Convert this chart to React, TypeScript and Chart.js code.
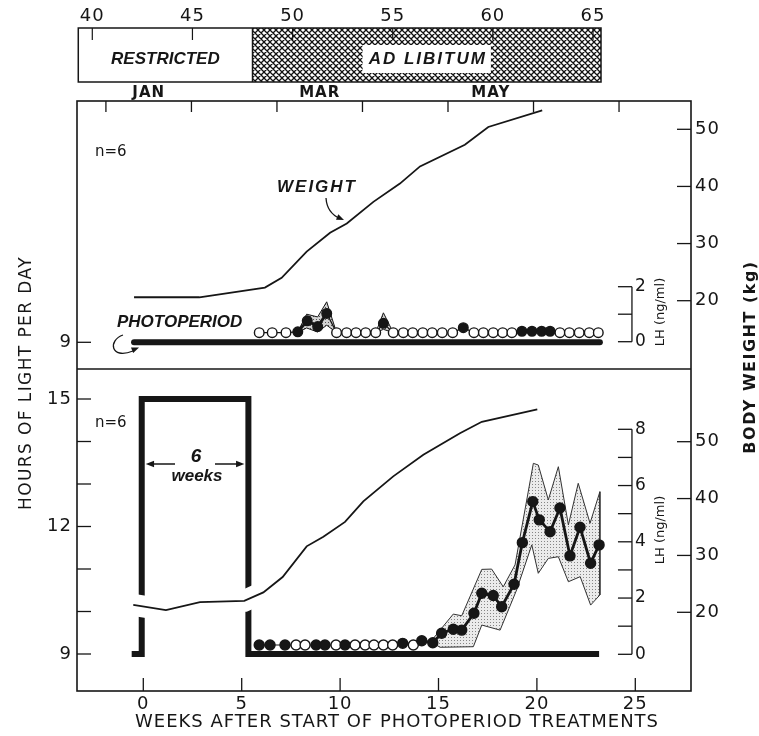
import React, { useEffect, useRef } from 'react';
import { Chart, registerables } from 'chart.js';

Chart.register(...registerables);

// ================= DATA =================
// Weeks after start of photoperiod treatment (bottom axis)
const weekTicks = [0, 5, 10, 15, 20, 25];
const weekTickLabels = ['0', '5', '10', '15', '20', '25'];
// Calendar weeks (top bar)
const calendarWeeks = [40, 45, 50, 55, 60, 65];
const monthEdges = [40.68, 44.95, 49.22, 53.49, 57.76, 62.03, 66.3];
const monthNames = ['JAN', '', 'MAR', '', 'MAY', ''];
const dietLabels = ['RESTRICTED', 'AD LIBITUM'];
const dietStart = [39.3, 48.0];
const dietEnd = [48.0, 65.4];

const hourTicksTop = [9];
const hourTicksBottom = [9, 10, 11, 12, 13, 14, 15];
const hourLabels = [9, 12, 15];
const weightTicks = [20, 30, 40, 50];
const lhTicksTop = [0, 1, 2];
const lhLabelsTop = [0, 2];
const lhTicksBottom = [0, 1, 2, 3, 4, 5, 6, 7, 8];
const lhLabelsBottom = [0, 2, 4, 6, 8];

// Photoperiod (hours of light per day)
const photoTopWeeks = [-0.47, 23.2];
const photoTopHours = [9, 9];
const photoBottomWeeks = [-0.59, -0.08, -0.08, 5.34, 5.34, 23.16];
const photoBottomHours = [9, 9, 15, 15, 9, 9];

// Body weight (kg)
const weightTopWeeks = [-0.47, 2.85, 6.18, 7.03, 8.3, 9.49, 10.34, 11.69, 13.04, 14.06, 16.34, 17.53, 20.27];
const weightTopKg = [20.6, 20.6, 22.3, 24.0, 28.6, 31.9, 33.5, 37.3, 40.5, 43.5, 47.3, 50.4, 53.3];
const weightBottomWeeks = [-0.51, 1.15, 2.88, 5.13, 6.1, 7.08, 8.3, 9.15, 10.25, 11.18, 12.7, 14.23, 16.09, 17.2, 20.02];
const weightBottomKg = [21.3, 20.4, 21.8, 22.0, 23.5, 26.2, 31.6, 33.3, 35.9, 39.5, 43.9, 47.7, 51.5, 53.5, 55.7];

// LH (ng/ml), top panel (constant short days)
const lhTopWeeks = [5.89, 6.55, 7.25, 7.85, 8.33, 8.86, 9.32, 9.82, 10.33, 10.81, 11.3, 11.81, 12.2, 12.7, 13.21, 13.69, 14.2, 14.68, 15.19, 15.72, 16.26, 16.8, 17.28, 17.78, 18.26, 18.73, 19.24, 19.75, 20.24, 20.67, 21.17, 21.65, 22.15, 22.66, 23.12];
const lhTopValues = [0.33, 0.33, 0.33, 0.36, 0.76, 0.55, 1.03, 0.33, 0.33, 0.33, 0.33, 0.33, 0.67, 0.33, 0.33, 0.33, 0.33, 0.33, 0.33, 0.33, 0.51, 0.33, 0.33, 0.33, 0.33, 0.33, 0.38, 0.38, 0.38, 0.38, 0.33, 0.33, 0.33, 0.33, 0.33];
const lhTopDetect = [0, 0, 0, 1, 1, 1, 1, 0, 0, 0, 0, 0, 1, 0, 0, 0, 0, 0, 0, 0, 1, 0, 0, 0, 0, 0, 1, 1, 1, 1, 0, 0, 0, 0, 0];
const topBand1Weeks = [7.85, 8.3, 8.86, 9.32, 9.82];
const topBand1Upper = [0.36, 1.0, 0.9, 1.45, 0.33];
const topBand1Lower = [0.33, 0.5, 0.35, 0.6, 0.33];
const topBand2Weeks = [11.81, 12.2, 12.7];
const topBand2Upper = [0.33, 1.05, 0.33];
const topBand2Lower = [0.33, 0.45, 0.33];

// LH (ng/ml), bottom panel (6 weeks of long days)
const lhBottomWeeks = [5.89, 6.44, 7.2, 7.76, 8.22, 8.78, 9.23, 9.79, 10.25, 10.76, 11.27, 11.72, 12.2, 12.67, 13.18, 13.72, 14.15, 14.71, 15.16, 15.75, 16.18, 16.8, 17.2, 17.78, 18.21, 18.84, 19.26, 19.79, 20.12, 20.67, 21.17, 21.68, 22.19, 22.73, 23.16];
const lhBottomValues = [0.33, 0.33, 0.33, 0.33, 0.33, 0.33, 0.33, 0.33, 0.33, 0.33, 0.33, 0.33, 0.33, 0.33, 0.39, 0.33, 0.48, 0.41, 0.75, 0.89, 0.86, 1.46, 2.17, 2.09, 1.69, 2.49, 3.97, 5.43, 4.78, 4.36, 5.2, 3.5, 4.52, 3.24, 3.89];
const lhBottomDetect = [1, 1, 1, 0, 0, 1, 1, 0, 1, 0, 0, 0, 0, 0, 1, 0, 1, 1, 1, 1, 1, 1, 1, 1, 1, 1, 1, 1, 1, 1, 1, 1, 1, 1, 1];
const bandUpperWeeks = [14.6, 15.75, 16.18, 17.2, 17.7, 18.29, 18.89, 19.82, 20.07, 20.58, 21.09, 21.6, 22.1, 22.7, 23.2];
const bandUpper = [0.45, 1.43, 1.37, 3.02, 3.03, 2.4, 3.18, 6.79, 6.73, 5.49, 6.67, 4.6, 6.08, 4.66, 5.78];
const bandLowerWeeks = [14.6, 15.08, 16.77, 17.2, 18.13, 18.97, 19.74, 20.07, 20.58, 21.09, 21.6, 22.2, 22.73, 23.2];
const bandLower = [0.45, 0.25, 0.27, 1.04, 0.86, 2.29, 3.89, 2.88, 3.41, 3.47, 2.58, 2.76, 1.75, 2.11];

// ================= LAYOUT / STYLE =================
const W = 759;
const H = 736;
const AREA = { left: 77, top: 101, right: 691, bottom: 691 };
const PANEL_SPLIT = 369;
const BAR_TOP = 28;
const BAR_BOTTOM = 82;
const LH_AXIS_WEEK = 24.83;
const INK = '#161616';
const NUM_FONT = '18px "DejaVu Sans"';
const LABEL_FONT = 'italic bold 17px "Liberation Sans"';

function axisRange(v1: number, p1: number, v2: number, p2: number, lo: number, hi: number) {
  const k = (v2 - v1) / (p2 - p1);
  const a = v1 + (lo - p1) * k;
  const b = v1 + (hi - p1) * k;
  return { min: Math.min(a, b), max: Math.max(a, b) };
}

const pts = (xs: number[], ys: number[]) => xs.map((x, i) => ({ x, y: ys[i] }));
const loop = (ux: number[], uy: number[], lx: number[], ly: number[]) => {
  const up = pts(ux, uy);
  const lo = pts(lx, ly).reverse();
  return [...up, ...lo, up[0]];
};

function makeStipple(base: string, dot: string) {
  const c = document.createElement('canvas');
  c.width = 3;
  c.height = 3;
  const g = c.getContext('2d')!;
  g.fillStyle = base;
  g.fillRect(0, 0, 3, 3);
  g.fillStyle = dot;
  g.fillRect(1, 1, 1, 1);
  return g.createPattern(c, 'repeat')!;
}

function makeHatch() {
  const c = document.createElement('canvas');
  c.width = 6;
  c.height = 6;
  const g = c.getContext('2d')!;
  g.fillStyle = '#fff';
  g.fillRect(0, 0, 6, 6);
  g.strokeStyle = '#111';
  g.lineWidth = 1.3;
  g.beginPath();
  g.moveTo(-1, -1);
  g.lineTo(7, 7);
  g.moveTo(-1, 7);
  g.lineTo(7, -1);
  g.moveTo(5, -1);
  g.lineTo(7, 1);
  g.moveTo(-1, 5);
  g.lineTo(1, 7);
  g.moveTo(-1, 1);
  g.lineTo(1, -1);
  g.moveTo(5, 7);
  g.lineTo(7, 5);
  g.stroke();
  return g.createPattern(c, 'repeat')!;
}

function thickSeg(detect: number[]) {
  return (c: any) => {
    const a = c.p0DataIndex;
    const b = c.p1DataIndex;
    const hi = Math.max(c.p0.parsed.y, c.p1.parsed.y);
    return detect[a] && detect[b] && hi > 0.45 ? 2.8 : 1.2;
  };
}

export default function App() {
  const ref = useRef<HTMLCanvasElement>(null);

  useEffect(() => {
    const canvas = ref.current!;
    const stippleLight = makeStipple('#ebebeb', '#858585');
    const stippleDark = makeStipple('#d2d2d2', '#555');
    const hatch = makeHatch();

    const line = (ctx: CanvasRenderingContext2D, x1: number, y1: number, x2: number, y2: number) => {
      ctx.beginPath();
      ctx.moveTo(x1, y1);
      ctx.lineTo(x2, y2);
      ctx.stroke();
    };
    const txt = (
      ctx: CanvasRenderingContext2D,
      s: string,
      x: number,
      y: number,
      font: string,
      align: CanvasTextAlign = 'center',
      rot = 0,
      spacing = 0,
    ) => {
      ctx.save();
      ctx.font = font;
      ctx.fillStyle = INK;
      ctx.textAlign = align;
      ctx.textBaseline = 'middle';
      (ctx as any).letterSpacing = spacing + 'px';
      ctx.translate(x, y);
      if (rot) ctx.rotate(rot);
      ctx.fillText(s, 0, 0);
      ctx.restore();
    };
    const head = (ctx: CanvasRenderingContext2D, x: number, y: number, ang: number, size = 8) => {
      ctx.beginPath();
      ctx.moveTo(x, y);
      ctx.lineTo(x - size * Math.cos(ang - 0.38), y - size * Math.sin(ang - 0.38));
      ctx.lineTo(x - size * Math.cos(ang + 0.38), y - size * Math.sin(ang + 0.38));
      ctx.closePath();
      ctx.fill();
    };

    const figurePlugin = {
      id: 'figure',
      beforeDraw(chart: any) {
        const { ctx } = chart;
        ctx.save();
        ctx.fillStyle = '#fff';
        ctx.fillRect(0, 0, W, H);
        ctx.restore();
      },
      afterDraw(chart: any) {
        const { ctx, chartArea: A } = chart;
        const sx = chart.scales.x;
        const st = chart.scales.xTop;
        const hT = chart.scales.hTop;
        const hB = chart.scales.hBot;
        const wT = chart.scales.wTop;
        const wB = chart.scales.wBot;
        const lT = chart.scales.lhTop;
        const lB = chart.scales.lhBot;
        ctx.save();
        ctx.strokeStyle = INK;
        ctx.fillStyle = INK;

        // ---- top diet bar ----
        const bx0 = st.getPixelForValue(dietStart[0]);
        const bm = st.getPixelForValue(dietStart[1]);
        const bx1 = st.getPixelForValue(dietEnd[1]);
        ctx.fillStyle = hatch;
        ctx.fillRect(bm, BAR_TOP, bx1 - bm, BAR_BOTTOM - BAR_TOP);
        ctx.fillStyle = INK;
        ctx.lineWidth = 1.5;
        ctx.strokeRect(bx0, BAR_TOP, bx1 - bx0, BAR_BOTTOM - BAR_TOP);
        line(ctx, bm, BAR_TOP, bm, BAR_BOTTOM);
        ctx.lineWidth = 1.2;
        calendarWeeks.forEach((w) => {
          const x = st.getPixelForValue(w);
          line(ctx, x, BAR_TOP, x, BAR_TOP + 12);
          txt(ctx, String(w), x, 16, NUM_FONT, 'center', 0, 1);
        });
        const labelY = 59;
        txt(ctx, dietLabels[0], (bx0 + bm) / 2, labelY, LABEL_FONT);
        {
          const cx = (bm + bx1) / 2;
          ctx.save();
          ctx.font = LABEL_FONT;
          (ctx as any).letterSpacing = '2px';
          const tw = ctx.measureText(dietLabels[1]).width;
          ctx.restore();
          ctx.fillStyle = '#fff';
          ctx.fillRect(cx - tw / 2 - 5, labelY - 14, tw + 10, 28);
          ctx.fillStyle = INK;
          txt(ctx, dietLabels[1], cx + 1, labelY, LABEL_FONT, 'center', 0, 2);
        }
        for (let i = 0; i < monthNames.length; i++) {
          if (!monthNames[i]) continue;
          const x = st.getPixelForValue((monthEdges[i] + monthEdges[i + 1]) / 2);
          txt(ctx, monthNames[i], x, 93, 'bold 15px "DejaVu Sans"', 'center', 0, 1);
        }

        // ---- panel frames ----
        ctx.lineWidth = 1.6;
        ctx.strokeRect(A.left, A.top, A.right - A.left, A.bottom - A.top);
        line(ctx, A.left, PANEL_SPLIT, A.right, PANEL_SPLIT);

        // month ticks on top of upper panel
        ctx.lineWidth = 1.3;
        monthEdges.forEach((m) => {
          const x = st.getPixelForValue(m);
          if (x > A.left + 2 && x < A.right - 2) line(ctx, x, A.top, x, A.top + 11);
        });

        // bottom week axis
        weekTicks.forEach((w, i) => {
          const x = sx.getPixelForValue(w);
          line(ctx, x, A.bottom, x, A.bottom - 13);
          txt(ctx, weekTickLabels[i], x, A.bottom + 13, NUM_FONT, 'center', 0, 1);
        });
        txt(ctx, 'WEEKS AFTER START OF PHOTOPERIOD TREATMENTS', 397, 722, '18px "DejaVu Sans"', 'center', 0, 1);

        // hours axis (left)
        const hourAxis = (sc: any, ticks: number[]) => {
          ticks.forEach((h) => {
            const y = sc.getPixelForValue(h);
            line(ctx, A.left, y, A.left + 14, y);
            if (hourLabels.includes(h)) txt(ctx, String(h), A.left - 5, y, NUM_FONT, 'right', 0, 1);
          });
        };
        hourAxis(hT, hourTicksTop);
        hourAxis(hB, hourTicksBottom);
        txt(ctx, 'HOURS OF LIGHT PER DAY', 27, 383, '17px "DejaVu Sans"', 'center', -Math.PI / 2, 1.4);

        // body weight axis (right)
        [wT, wB].forEach((sc: any) => {
          weightTicks.forEach((k) => {
            const y = sc.getPixelForValue(k);
            line(ctx, A.right - 14, y, A.right, y);
            txt(ctx, String(k), A.right + 4, y, NUM_FONT, 'left', 0, 1);
          });
        });
        txt(ctx, 'BODY WEIGHT (kg)', 751, 357, 'bold 16px "DejaVu Sans"', 'center', -Math.PI / 2, 1.5);

        // LH axes (inner)
        const lhAxis = (sc: any, ticks: number[], labels: number[], titleY: number) => {
          const x = sx.getPixelForValue(LH_AXIS_WEEK);
          const y0 = sc.getPixelForValue(ticks[0]);
          const y1 = sc.getPixelForValue(ticks[ticks.length - 1]);
          line(ctx, x, y0, x, y1);
          ticks.forEach((v) => {
            const y = sc.getPixelForValue(v);
            line(ctx, x - 14, y, x, y);
            if (labels.includes(v)) txt(ctx, String(v), x + 3, y, '17px "DejaVu Sans"', 'left');
          });
          txt(ctx, 'LH (ng/ml)', x + 29, titleY, '13px "DejaVu Sans"', 'center', -Math.PI / 2);
        };
        lhAxis(lT, lhTicksTop, lhLabelsTop, 312);
        lhAxis(lB, lhTicksBottom, lhLabelsBottom, 530);

        // ---- annotations ----
        txt(ctx, 'n=6', 95, 152, '15px "DejaVu Sans"', 'left');
        txt(ctx, 'n=6', 95, 423, '15px "DejaVu Sans"', 'left');

        txt(ctx, 'WEIGHT', 277, 187, LABEL_FONT, 'left', 0, 2);
        ctx.lineWidth = 1.3;
        ctx.beginPath();
        ctx.moveTo(326, 198);
        ctx.quadraticCurveTo(327, 213, 340, 218.5);
        ctx.stroke();
        head(ctx, 344, 220, Math.atan2(5.5, 13), 8);

        txt(ctx, 'PHOTOPERIOD', 117, 322, LABEL_FONT, 'left');
        ctx.beginPath();
        ctx.moveTo(123, 335);
        ctx.bezierCurveTo(108, 340, 110, 360, 133, 351);
        ctx.stroke();
        head(ctx, 139, 347.5, Math.atan2(-9, 23), 8);

        // 6 weeks marker
        const xs = sx.getPixelForValue(photoBottomWeeks[2]);
        const xe = sx.getPixelForValue(photoBottomWeeks[3]);
        const ya = 464;
        ctx.lineWidth = 1.5;
        line(ctx, 175, ya, xs + 8, ya);
        head(ctx, xs + 4, ya, Math.PI, 9);
        line(ctx, 215, ya, xe - 8, ya);
        head(ctx, xe - 4, ya, 0, 9);
        txt(ctx, '6', 196, 457, 'italic bold 19px "Liberation Sans"');
        txt(ctx, 'weeks', 197, 476, LABEL_FONT);

        ctx.restore();
      },
    };

    const xR = axisRange(0, 143.3, 25, 635.3, AREA.left, AREA.right);
    const xTopR = axisRange(40, 92.3, 65, 593, AREA.left, AREA.right);
    const hTopR = axisRange(9, 342.3, 15, 87.3, AREA.top, AREA.bottom);
    const hBotR = axisRange(9, 654, 15, 399, AREA.top, AREA.bottom);
    const wTopR = axisRange(20, 300.7, 50, 129.3, AREA.top, AREA.bottom);
    const wBotR = axisRange(20, 612.3, 50, 441.7, AREA.top, AREA.bottom);
    const lTopR = axisRange(0, 341.7, 2, 286.7, AREA.top, AREA.bottom);
    const lBotR = axisRange(0, 654.3, 8, 429.3, AREA.top, AREA.bottom);

    const hidden = (axis: 'x' | 'y', r: { min: number; max: number }) => ({
      type: 'linear' as const,
      axis,
      display: false,
      bounds: 'data' as const,
      min: r.min,
      max: r.max,
    });

    const noPts = { pointRadius: 0, pointHoverRadius: 0 };

    const chart = new Chart(canvas, {
      type: 'line',
      data: {
        datasets: [
          {
            data: pts(photoTopWeeks, photoTopHours),
            yAxisID: 'hTop',
            borderColor: INK,
            borderWidth: 6,
            borderCapStyle: 'round',
            order: 20,
            ...noPts,
          },
          {
            data: pts(photoBottomWeeks, photoBottomHours),
            yAxisID: 'hBot',
            borderColor: INK,
            borderWidth: 6,
            borderCapStyle: 'butt',
            borderJoinStyle: 'miter',
            order: 20,
            ...noPts,
          },
          {
            data: pts(weightBottomWeeks, weightBottomKg),
            yAxisID: 'wBot',
            borderColor: '#ffffff',
            borderWidth: 22,
            order: 15,
            ...noPts,
          },
          {
            data: pts(weightTopWeeks, weightTopKg),
            yAxisID: 'wTop',
            borderColor: INK,
            borderWidth: 1.8,
            order: 10,
            ...noPts,
          },
          {
            data: pts(weightBottomWeeks, weightBottomKg),
            yAxisID: 'wBot',
            borderColor: INK,
            borderWidth: 1.8,
            order: 10,
            ...noPts,
          },
          {
            data: loop(topBand1Weeks, topBand1Upper, topBand1Weeks, topBand1Lower),
            yAxisID: 'lhTop',
            borderColor: INK,
            borderWidth: 1,
            backgroundColor: stippleDark,
            fill: 'shape',
            order: 8,
            ...noPts,
          },
          {
            data: loop(topBand2Weeks, topBand2Upper, topBand2Weeks, topBand2Lower),
            yAxisID: 'lhTop',
            borderColor: INK,
            borderWidth: 1,
            backgroundColor: stippleDark,
            fill: 'shape',
            order: 8,
            ...noPts,
          },
          {
            data: loop(bandUpperWeeks, bandUpper, bandLowerWeeks, bandLower),
            yAxisID: 'lhBot',
            borderColor: '#333',
            borderWidth: 1,
            backgroundColor: stippleLight,
            fill: 'shape',
            order: 8,
            ...noPts,
          },
          {
            data: pts(lhTopWeeks, lhTopValues),
            yAxisID: 'lhTop',
            borderColor: INK,
            borderWidth: 1.2,
            segment: { borderWidth: thickSeg(lhTopDetect) },
            pointRadius: 4.8,
            pointBorderWidth: 1.4,
            pointBorderColor: INK,
            pointBackgroundColor: lhTopDetect.map((d) => (d ? INK : '#ffffff')),
            order: 1,
          },
          {
            data: pts(lhBottomWeeks, lhBottomValues),
            yAxisID: 'lhBot',
            borderColor: INK,
            borderWidth: 1.2,
            segment: { borderWidth: thickSeg(lhBottomDetect) },
            pointRadius: 5,
            pointBorderWidth: 1.4,
            pointBorderColor: INK,
            pointBackgroundColor: lhBottomDetect.map((d) => (d ? INK : '#ffffff')),
            order: 1,
          },
        ] as any,
      },
      options: {
        responsive: false,
        devicePixelRatio: 1,
        animation: false,
        events: [],
        layout: {
          padding: { left: AREA.left, top: AREA.top, right: W - AREA.right, bottom: H - AREA.bottom },
        },
        elements: { line: { tension: 0 } },
        plugins: { legend: { display: false }, tooltip: { enabled: false } },
        scales: {
          x: hidden('x', xR),
          xTop: hidden('x', xTopR),
          hTop: hidden('y', hTopR),
          hBot: hidden('y', hBotR),
          wTop: hidden('y', wTopR),
          wBot: hidden('y', wBotR),
          lhTop: hidden('y', lTopR),
          lhBot: hidden('y', lBotR),
        } as any,
      },
      plugins: [figurePlugin],
    });

    return () => chart.destroy();
  }, []);

  return (
    <canvas
      ref={ref}
      width={W}
      height={H}
      style={{ position: 'absolute', left: 0, top: 0, width: W, height: H, display: 'block' }}
    />
  );
}
